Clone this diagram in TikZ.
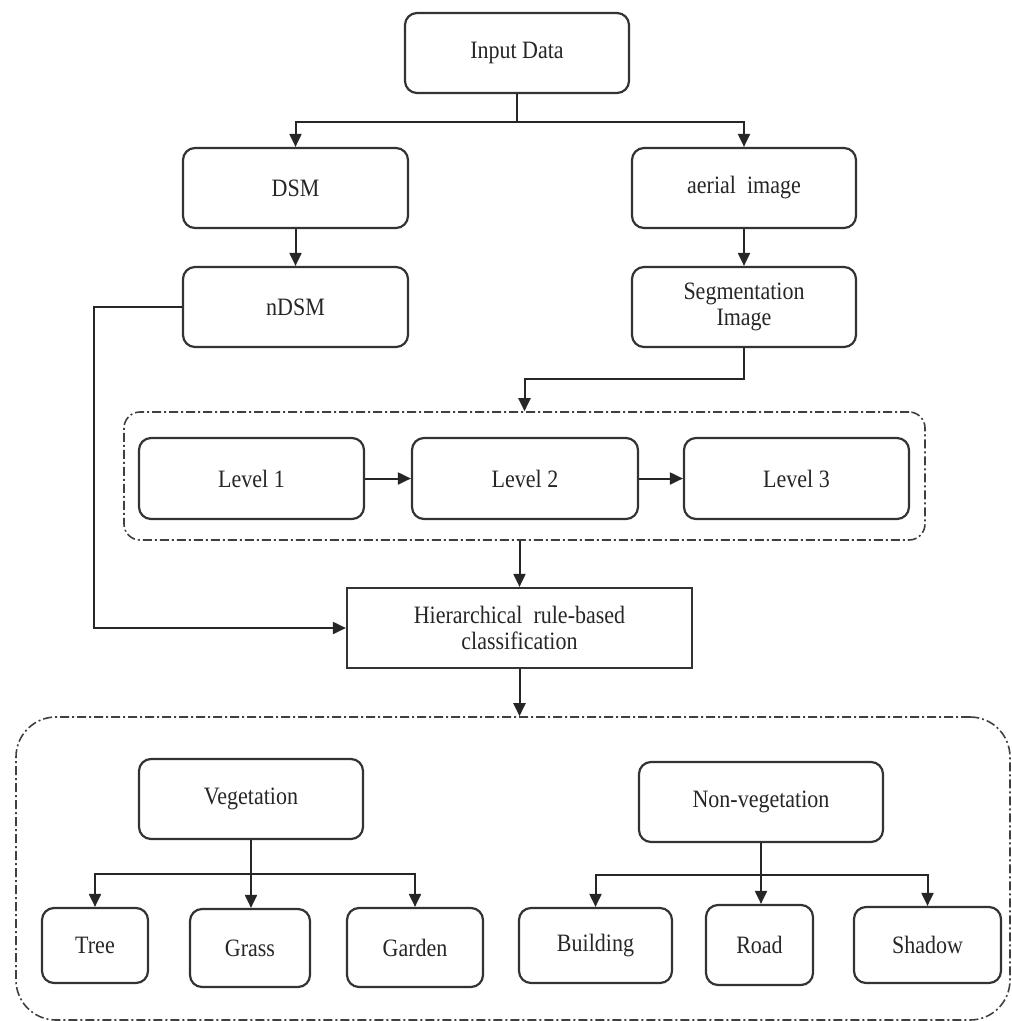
\documentclass[tikz,border=0pt]{standalone}
\usepackage{fontspec}
\setmainfont{Liberation Serif}[FakeStretch=0.88]
\usetikzlibrary{arrows.meta}
\begin{document}
\begin{tikzpicture}[x=1pt,y=-1pt,
  box/.style={draw=black!80, line width=2.2pt, rounded corners=12pt,
    minimum width=#1, minimum height=80pt, inner sep=0pt, align=center,
    font=\fontsize{25}{26}\selectfont, text=black!85},
  sqbox/.style={box=#1, rounded corners=0pt},
  grp/.style={draw=black!75, line width=1.6pt, dash pattern=on 9pt off 3pt on 2pt off 3pt, inner sep=0pt},
  arr/.style={draw=black!85, line width=2pt, -{Triangle[length=13pt,width=12pt]}},
  ln/.style={draw=black!85, line width=2pt}]
\useasboundingbox (0,0) rectangle (1012,1021);
% top part
\node[box=224pt] (in) at (517,53) {Input Data};
\node[box=225pt] (dsm) at (295.5,188) {DSM};
\node[box=224pt] (aer) at (744,188) {aerial\ \ image};
\node[box=225pt] (ndsm) at (295.5,307) {nDSM};
\node[box=224pt] (seg) at (744,307) {Segmentation\\Image};
% levels group
\node[grp, rounded corners=16pt, minimum width=801pt, minimum height=128pt] (lv) at (524.5,476) {};
\node[box=225pt, minimum height=81pt] (l1) at (251.5,478.5) {Level 1};
\node[box=226pt, minimum height=81pt] (l2) at (525,478.5) {Level 2};
\node[box=225pt, minimum height=81pt] (l3) at (796.5,478.5) {Level 3};
% classification
\node[sqbox=345pt] (hier) at (519.5,628) {Hierarchical\ \ rule-based\\classification};
% bottom group
\node[grp, rounded corners=40pt, minimum width=994pt, minimum height=303pt] (bot) at (513,868.5) {};
\node[box=224pt] (veg) at (251,799) {Vegetation};
\node[box=244pt] (nveg) at (761,802) {Non-vegetation};
\node[box=106pt, minimum height=75pt] (tree) at (95,945.5) {Tree};
\node[box=120pt, minimum height=78pt] (grass) at (250,948) {Grass};
\node[box=136pt, minimum height=79pt] (gard) at (415,947.5) {Garden};
\node[box=153pt, minimum height=75pt] (bld) at (595.5,945.5) {Building};
\node[box=107pt, minimum height=80pt] (road) at (759.5,945) {Road};
\node[box=147pt, minimum height=76pt] (shad) at (927.5,945) {Shadow};
% connectors
\coordinate (jin) at (517,122);
\draw[ln] (in.south) -- (jin);
\draw[arr] (jin) -| (dsm.north);
\draw[arr] (jin) -| (aer.north);
\draw[arr] (dsm) -- (ndsm);
\draw[arr] (aer) -- (seg);
\coordinate (jseg) at (744,379);
\draw[arr] (seg.south) -- (jseg) -| (lv.north);
\draw[arr] (l1) -- (l2);
\draw[arr] (l2) -- (l3);
\draw[arr] (lv.south -| hier.north) -- (hier.north);
\coordinate (jn) at (94,307);
\draw[arr] (ndsm.west) -- (jn) |- (hier.west);
\draw[arr] (hier.south) -- (hier.south |- bot.north);
\coordinate (jveg) at (251,874);
\draw[ln] (veg.south) -- (jveg);
\draw[arr] (jveg) -| (tree.north);
\draw[arr] (jveg) -- (grass.north -| jveg);
\draw[arr] (jveg) -| (gard.north);
\coordinate (jnv) at (761,875);
\draw[ln] (nveg.south) -- (jnv);
\draw[arr] (jnv) -| (bld.north);
\draw[arr] (jnv) -- (road.north -| jnv);
\draw[arr] (jnv) -| (shad.north);
\end{tikzpicture}
\end{document}
